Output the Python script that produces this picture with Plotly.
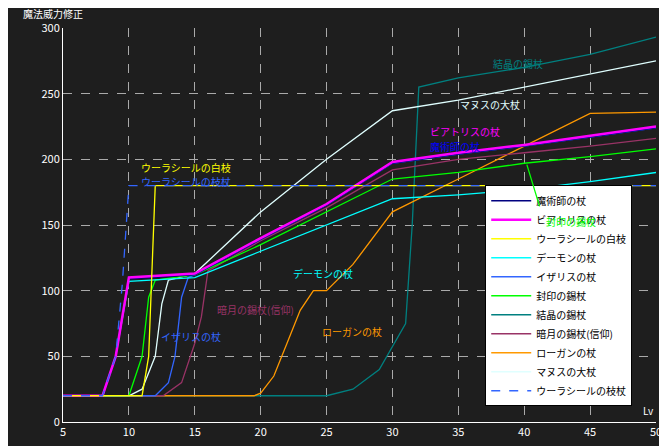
import plotly.graph_objects as go

# データ (Lv, 魔法威力修正)
lv_beatrice = [5, 8, 9, 10, 15, 20, 25, 30, 35, 40, 45, 50]
v_beatrice = [20, 20, 50, 110, 113, 140, 166, 198, 205, 211, 218, 225]
lv_magician = lv_beatrice
v_magician = [20, 20, 50, 109, 112, 139, 165, 197, 204, 210, 217, 224]
lv_white = [5, 11, 11.5, 12, 50]
v_white = [20, 20, 50, 180, 180]
lv_demon = [5, 8, 9, 10, 15, 20, 25, 30, 35, 40, 45, 50]
v_demon = [20, 20, 50, 107, 110, 130, 150, 170, 173, 177, 183, 190]
lv_isaris = [5, 12, 13, 13.5, 14, 14.5, 15, 20, 25, 30, 35, 40, 45, 50]
v_isaris = [20, 20, 30, 50, 95, 110, 112, 139, 165, 197, 204, 210, 217, 224]
lv_seal = [5, 10, 11, 11.5, 12, 15, 20, 25, 30, 35, 40, 45, 50]
v_seal = [20, 20, 50, 95, 108, 112, 135, 160, 185, 190, 197, 202, 208]
lv_crystal = [5, 25, 27, 29, 31, 31.5, 32, 35, 40, 45, 50]
v_crystal = [20, 20, 25, 40, 75, 150, 255, 262, 270, 280, 293]
lv_moon = [5, 12.6, 14, 15, 15.5, 16, 20, 25, 30, 35, 40, 45, 50]
v_moon = [20, 20, 30, 60, 80, 115, 138, 163, 192, 200, 205, 210, 216]
lv_logan = [5, 19.5, 20, 21, 22, 23, 24, 25, 27, 30, 35, 40, 45, 50]
v_logan = [20, 20, 22, 35, 60, 85, 100, 100, 120, 160, 185, 210, 235, 236]
lv_manus = [5, 10, 11, 12, 12.5, 13, 15, 20, 25, 30, 35, 40, 45, 50]
v_manus = [20, 20, 25, 50, 90, 108, 113, 160, 200, 237, 245, 255, 265, 275]
lv_branch = [5, 8, 9, 9.5, 10, 50]
v_branch = [20, 20, 50, 105, 180, 180]

series = [
    ("魔術師の杖", lv_magician, v_magician, "#000080", 1.3, "solid"),
    ("ビアトリスの杖", lv_beatrice, v_beatrice, "#ff00ff", 2.5, "solid"),
    ("ウーラシールの白枝", lv_white, v_white, "#ffff00", 1.3, "solid"),
    ("デーモンの杖", lv_demon, v_demon, "#00ffff", 1.3, "solid"),
    ("イザリスの杖", lv_isaris, v_isaris, "#3366ff", 1.3, "solid"),
    ("封印の錫杖", lv_seal, v_seal, "#00ff00", 1.3, "solid"),
    ("結晶の錫杖", lv_crystal, v_crystal, "#008080", 1.3, "solid"),
    ("暗月の錫杖(信仰)", lv_moon, v_moon, "#993366", 1.3, "solid"),
    ("ローガンの杖", lv_logan, v_logan, "#ff9900", 1.3, "solid"),
    ("マヌスの大杖", lv_manus, v_manus, "#e0ffff", 1.3, "solid"),
    ("ウーラシールの枝杖", lv_branch, v_branch, "#3366ff", 1.3, "dash"),
]

fig = go.Figure()
draw_order = [6, 8, 9, 7, 5, 4, 3, 0, 1, 2, 10]
for i in draw_order:
    name, x, y, c, w, d = series[i]
    fig.add_trace(go.Scatter(x=x, y=y, name=name, mode="lines", legendrank=i + 1,
                             line=dict(color=c, width=w, dash=d)))

labels = [
    (10.8, 194, "ウーラシールの白枝", "#ffff00"),
    (10.8, 183, "ウーラシールの枝杖", "#3366ff"),
    (37.5, 273, "結晶の錫杖", "#008080"),
    (35, 242, "マヌスの大杖", "#e0ffff"),
    (32.7, 221, "ビアトリスの杖", "#ff00ff"),
    (32.7, 210, "魔術師の杖", "#0000ff"),
    (41.5, 153, "封印の錫杖", "#00ff00"),
    (22.3, 113, "デーモンの杖", "#00ffff"),
    (16.5, 86, "暗月の錫杖(信仰)", "#993366"),
    (12.3, 65, "イザリスの杖", "#3366ff"),
    (24.5, 69, "ローガンの杖", "#ff9900"),
]
for x, y, t, c in labels:
    fig.add_annotation(x=x, y=y, text=t, showarrow=False, xanchor="left",
                       font=dict(color=c, size=10))
fig.add_annotation(x=40.2, y=196, ax=41.2, ay=163, axref="x", ayref="y",
                   text="", showarrow=True, arrowhead=0, arrowwidth=1.3,
                   arrowcolor="#00ff00")

fig.add_annotation(x=0, y=1.0, xref="paper", yref="paper", yanchor="bottom",
                   xanchor="right", xshift=22, yshift=5, text="魔法威力修正",
                   showarrow=False, font=dict(color="white", size=10))
fig.add_annotation(x=1, y=0, xref="paper", yref="paper", yanchor="bottom",
                   xanchor="right", text="Lv", showarrow=False, yshift=2,
                   font=dict(color="white", size=10))

axis = dict(gridcolor="#aaaaaa", griddash="dash", gridwidth=1, zeroline=False,
            showline=True, linecolor="white", tickfont=dict(color="white", size=11),
            ticks="")
fig.update_xaxes(range=[5, 50], dtick=5, **axis)
fig.update_yaxes(range=[0, 300], dtick=50, **axis)

fig.update_layout(
    width=667, height=446,
    margin=dict(l=55, r=19, t=20, b=32),
    paper_bgcolor="#1e1e1e", plot_bgcolor="#1e1e1e",
    font=dict(family="Noto Sans CJK JP", color="white"),
    showlegend=True,
    legend=dict(x=0.712, y=0.04, xanchor="left", yanchor="bottom", bgcolor="white",
                bordercolor="black", borderwidth=1, font=dict(color="black", size=10),
                tracegroupgap=0, itemwidth=40),
)

fig.write_html("out.html")
